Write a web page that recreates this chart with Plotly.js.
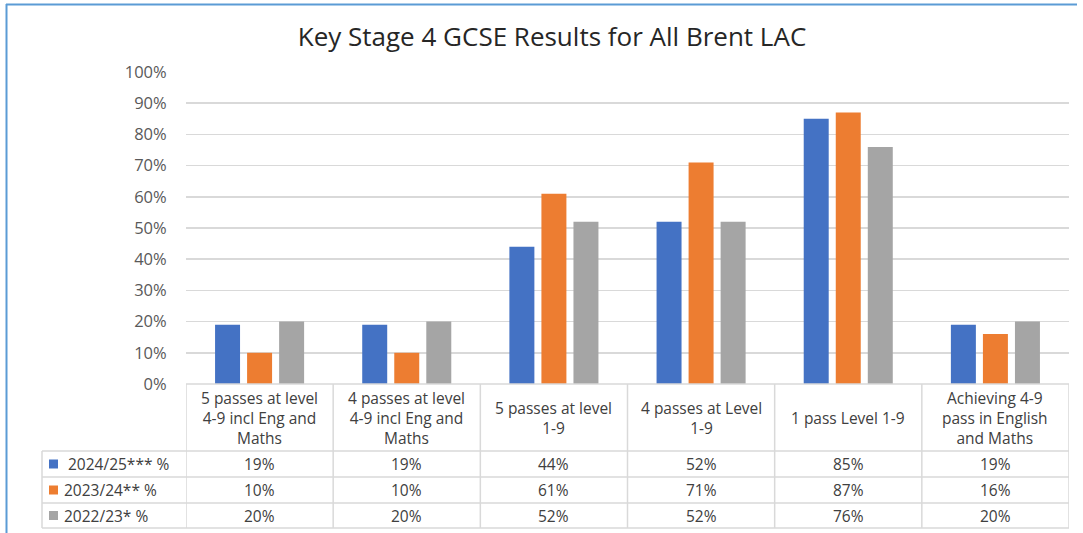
<!DOCTYPE html>
<html>
<head>
<meta charset="utf-8">
<script src="https://cdn.plot.ly/plotly-3.0.1.min.js"></script>
<style>
  html, body { margin: 0; padding: 0; background: #ffffff; }
  #chart { width: 1083px; height: 533px; }
</style>
</head>
<body>
<div id="chart"></div>
<script>
// Measures shown in the chart and as the table's column headers
const categories = [
  '5 passes at level<br>4-9 incl Eng and<br>Maths',
  '4 passes at level<br>4-9 incl Eng and<br>Maths',
  '5 passes at level<br>1-9',
  '4 passes at Level<br>1-9',
  '1 pass Level 1-9',
  'Achieving 4-9<br>pass in English<br>and Maths'
];

// Series names (table row labels)
const seriesNames = ['2024/25*** %', '2023/24** %', '2022/23* %'];

// Percentages per year
const values2425 = [19, 19, 44, 52, 85, 19];
const values2324 = [10, 10, 61, 71, 87, 16];
const values2223 = [20, 20, 52, 52, 76, 20];

// Y axis ticks
const yTickValues = [0, 10, 20, 30, 40, 50, 60, 70, 80, 90, 100];

const seriesValues = [values2425, values2324, values2223];
const seriesColors = ['#4472c4', '#ed7d31', '#a5a5a5'];

// Page geometry (pixels)
const W = 1083, H = 533;
const plotL = 186, plotR = 1069, plotT = 72, plotB = 384;
const plotW = plotR - plotL, plotH = plotB - plotT;
const tableLeft = 42;
const rowLines = [451, 477, 503, 528];   // header bottom, then row bottoms

const px = x => (x - plotL) / plotW;
const py = y => (plotB - y) / plotH;

const FONT = '"Open Sans", Lato, sans-serif';
const TEXT = '#404040';
const TICK = '#595959';
const GRID = '#d9d9d9';

const xIdx = categories.map((_, i) => i);

const traces = seriesValues.map((vals, s) => ({
  type: 'bar',
  x: xIdx,
  y: vals,
  name: seriesNames[s],
  marker: { color: seriesColors[s] },
  hoverinfo: 'skip'
}));

const shapes = [];
const annotations = [];

// Horizontal table rules
shapes.push({ type: 'line', xref: 'paper', yref: 'paper',
  x0: px(plotL), x1: px(plotR), y0: py(plotB), y1: py(plotB),
  line: { color: GRID, width: 1.5 } });
rowLines.forEach(y => shapes.push({ type: 'line', xref: 'paper', yref: 'paper',
  x0: px(tableLeft), x1: px(plotR), y0: py(y), y1: py(y),
  line: { color: GRID, width: 1.5 } }));

// Vertical table rules at category boundaries
for (let k = 0; k <= categories.length; k++) {
  shapes.push({ type: 'line', xref: 'x', yref: 'paper',
    x0: k - 0.5, x1: k - 0.5, y0: py(plotB), y1: py(rowLines[rowLines.length - 1]),
    line: { color: GRID, width: 1.5 } });
}
// Left edge of the row-label column
shapes.push({ type: 'line', xref: 'paper', yref: 'paper',
  x0: px(tableLeft), x1: px(tableLeft), y0: py(rowLines[0]), y1: py(rowLines[rowLines.length - 1]),
  line: { color: GRID, width: 1.5 } });

// Header cells
categories.forEach((c, i) => annotations.push({
  xref: 'x', yref: 'paper', x: i, y: py((plotB + rowLines[0]) / 2),
  text: c, showarrow: false, align: 'center', xanchor: 'center', yanchor: 'middle',
  font: { family: FONT, size: 15.5, color: TEXT }
}));

// Data rows
seriesValues.forEach((vals, s) => {
  const yTop = rowLines[s], yBot = rowLines[s + 1];
  const yMid = (yTop + yBot) / 2;
  // legend key
  shapes.push({ type: 'rect', xref: 'paper', yref: 'paper',
    x0: px(49), x1: px(58), y0: py(yMid - 4.5), y1: py(yMid + 4.5),
    fillcolor: seriesColors[s], line: { width: 0 } });
  annotations.push({
    xref: 'paper', yref: 'paper', x: px(s === 0 ? 66 : 62), y: py(yMid),
    text: seriesNames[s], showarrow: false, xanchor: 'left', yanchor: 'middle',
    font: { family: FONT, size: 15.5, color: TEXT }
  });
  vals.forEach((v, i) => annotations.push({
    xref: 'x', yref: 'paper', x: i, y: py(yMid),
    text: v + '%', showarrow: false, xanchor: 'center', yanchor: 'middle',
    font: { family: FONT, size: 15.5, color: TEXT }
  }));
});

// Frame lines along the top and left of the page
shapes.push({ type: 'line', xref: 'paper', yref: 'paper',
  x0: px(6), x1: px(1077), y0: py(4.5), y1: py(4.5),
  line: { color: '#5b9bd5', width: 2 } });
shapes.push({ type: 'line', xref: 'paper', yref: 'paper',
  x0: px(6.5), x1: px(6.5), y0: py(4), y1: py(540),
  line: { color: '#5b9bd5', width: 2 } });

const layout = {
  width: W, height: H,
  margin: { l: plotL, r: W - plotR, t: plotT, b: H - plotB, pad: 0 },
  paper_bgcolor: '#ffffff',
  plot_bgcolor: '#ffffff',
  title: {
    text: 'Key Stage 4 GCSE Results for All Brent LAC',
    font: { family: FONT, size: 26, color: '#262626' },
    x: 552 / W, xref: 'container', xanchor: 'center',
    y: 1 - 37 / H, yref: 'container', yanchor: 'middle'
  },
  showlegend: false,
  barmode: 'group',
  bargap: 0.347,
  bargroupgap: 0.22,
  xaxis: {
    range: [-0.5, categories.length - 0.5],
    showticklabels: false, showgrid: false, zeroline: false, showline: false,
    ticks: '', fixedrange: true
  },
  yaxis: {
    range: [0, 100],
    tickvals: yTickValues,
    ticktext: yTickValues.map(v => v + '%'),
    showgrid: true, gridcolor: GRID, gridwidth: 1.5,
    zeroline: false, showline: false,
    ticks: 'outside', ticklen: 15, tickcolor: 'rgba(0,0,0,0)',
    tickfont: { family: FONT, size: 16.5, color: TICK },
    fixedrange: true
  },
  shapes: shapes,
  annotations: annotations
};

Plotly.newPlot('chart', traces, layout, { displayModeBar: false, staticPlot: true });
</script>
</body>
</html>
